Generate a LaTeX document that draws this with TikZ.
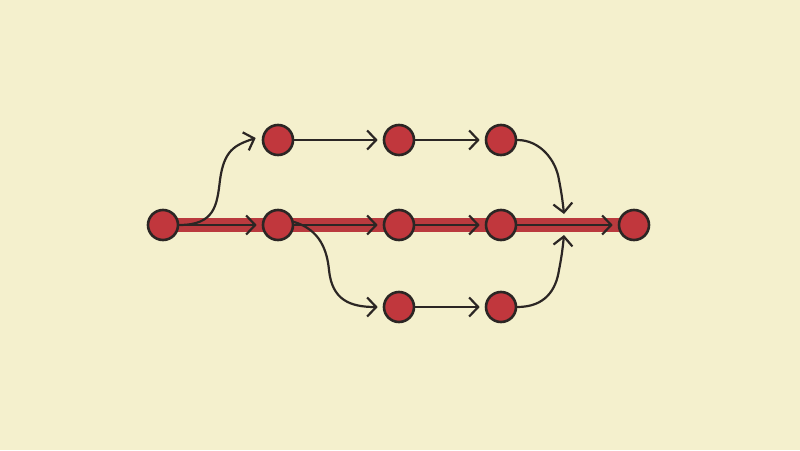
\documentclass[tikz,border=0pt]{standalone}
\usetikzlibrary{arrows.meta}
\definecolor{bg}{HTML}{F4F0CD}
\definecolor{nodered}{HTML}{C1373D}
\definecolor{bandred}{HTML}{BA3A3E}
\definecolor{ink}{HTML}{2B2624}
\begin{document}
\begin{tikzpicture}[x=1pt,y=-1pt,
  dot/.style={circle,draw=ink,fill=nodered,line width=2.6pt,minimum size=30pt,inner sep=0pt},
  conn/.style={draw=ink,line width=2.2pt,line cap=round,-{Straight Barb[length=9pt,width=19pt,line width=2.2pt]}},
  band/.style={draw=bandred,line width=14pt}]
\fill[bg] (0,0) rectangle (800,450);
\useasboundingbox (0,0) rectangle (800,450);
% coordinates
\coordinate (pa) at (163,225);
\coordinate (pe) at (634,225);
\draw[band] (pa) -- (pe);
\node[dot] (a) at (163,225) {};
\node[dot] (m1) at (278,225) {};
\node[dot] (m2) at (399,225) {};
\node[dot] (m3) at (501,225) {};
\node[dot] (m4) at (634,225) {};
\node[dot] (t1) at (278,140) {};
\node[dot] (t2) at (399,140) {};
\node[dot] (t3) at (501,140) {};
\node[dot] (b1) at (399,307) {};
\node[dot] (b2) at (501,307) {};
\coordinate (jt) at (564,214);
\coordinate (jb) at (564,235);
% straight main
\draw[conn] (a.east) -- ([xshift=-5pt]m1.west);
\draw[conn] (m1.east) -- ([xshift=-5pt]m2.west);
\draw[conn] (m2.east) -- ([xshift=-5pt]m3.west);
\draw[conn] (m3.east) -- ([xshift=-5pt]m4.west);
% top
\draw[conn] (t1.east) -- ([xshift=-5pt]t2.west);
\draw[conn] (t2.east) -- ([xshift=-5pt]t3.west);
% bottom
\draw[conn] (b1.east) -- ([xshift=-5pt]b2.west);
% curves
\draw[conn] (a.east) .. controls (215,225) and (217,205) .. (220,180) .. controls (224,150) and (235,145) .. ([xshift=-6pt,yshift=2pt]t1.west);
\draw[conn] ([yshift=3pt]m1.east) .. controls (320,230) and (327,250) .. (329,270) .. controls (332,300) and (350,307) .. ([xshift=-5pt]b1.west);
\draw[conn] (t3.east) .. controls (540,140) and (556,160) .. (559,180) .. controls (562,195) and (563,205) .. (jt);
\draw[conn] (b2.east) .. controls (545,307) and (556,290) .. (559,270) .. controls (562,255) and (563,245) .. (jb);
\end{tikzpicture}
\end{document}
